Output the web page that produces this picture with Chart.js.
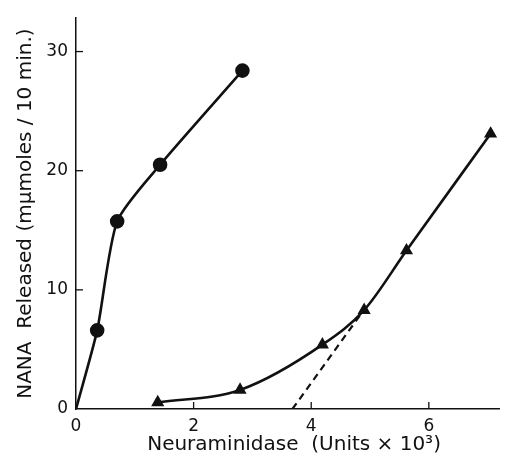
<!DOCTYPE html>
<html>
<head>
<meta charset="utf-8">
<script src="https://cdn.jsdelivr.net/npm/chart.js@4.4.1/dist/chart.umd.min.js"></script>
<style>
  html, body { margin: 0; padding: 0; background: #fff; }
  #wrap { width: 508px; height: 457px; }
</style>
</head>
<body>
<div id="wrap"><canvas id="myChart"></canvas></div>
<script>
// values
const circleX = [0, 0.36, 0.70, 1.43, 2.83];
const circleY = [0, 6.6, 15.75, 20.5, 28.4];
const triX = [1.39, 2.79, 4.19, 4.90, 5.62, 7.05];
const triY = [0.55, 1.6, 5.4, 8.3, 13.3, 23.1];
const dashX = [3.68, 4.85];
const dashY = [0, 8.0];
const xTicks = [0, 2, 4, 6];
const yTicks = [0, 10, 20, 30];

const ink = '#111';
const pairs = (xs, ys) => xs.map((x, i) => ({ x: x, y: ys[i] }));

// ticks in the figure point into the plot, so draw them here
const inwardTicks = {
  id: 'inwardTicks',
  afterDraw(chart) {
    const c = chart.ctx, a = chart.chartArea;
    const xs = chart.scales.x, ys = chart.scales.y;
    c.save();
    c.strokeStyle = ink;
    c.lineWidth = 1.3;
    xTicks.slice(1).forEach(v => {
      const px = xs.getPixelForValue(v);
      c.beginPath(); c.moveTo(px, a.bottom); c.lineTo(px, a.bottom - 7); c.stroke();
    });
    yTicks.slice(1).forEach(v => {
      const py = ys.getPixelForValue(v);
      c.beginPath(); c.moveTo(a.left, py); c.lineTo(a.left + 7, py); c.stroke();
    });
    c.restore();
  }
};

const ctx = document.getElementById('myChart').getContext('2d');
const myChart = new Chart(ctx, {
  type: 'scatter',
  data: {
    datasets: [{
      data: pairs(circleX, circleY),
      showLine: true,
      tension: 0.22,
      borderColor: ink,
      backgroundColor: ink,
      borderWidth: 2.6,
      pointStyle: 'circle',
      pointRadius: [0, 6, 6, 6, 6]
    }, {
      data: pairs(triX, triY),
      showLine: true,
      cubicInterpolationMode: 'monotone',
      borderColor: ink,
      backgroundColor: ink,
      borderWidth: 2.6,
      pointStyle: 'triangle',
      pointRadius: 5
    }, {
      data: pairs(dashX, dashY),
      showLine: true,
      borderColor: ink,
      borderWidth: 2.2,
      borderDash: [7, 5],
      pointRadius: 0
    }]
  },
  options: {
    responsive: true,
    maintainAspectRatio: false,
    animation: false,
    layout: { padding: { top: 14, right: 0, left: 0, bottom: 0 } },
    plugins: { legend: { display: false }, tooltip: { enabled: false } },
    scales: {
      x: {
        type: 'linear',
        min: 0,
        max: 7.2,
        afterBuildTicks: s => { s.ticks = xTicks.map(v => ({ value: v })); },
        afterFit: s => { s.height = 48; },
        grid: { display: false, drawTicks: false },
        border: { color: ink, width: 1.5 },
        ticks: { color: ink, padding: 7, font: { family: 'DejaVu Sans', size: 17 } },
        title: {
          display: true,
          text: '  Neuraminidase  (Units \u00d7 10\u00b3)',
          color: ink,
          padding: { top: 0, bottom: 0 },
          font: { family: 'DejaVu Sans', size: 20 }
        }
      },
      y: {
        type: 'linear',
        min: 0,
        max: 32.8,
        afterBuildTicks: s => { s.ticks = yTicks.map(v => ({ value: v })); },
        afterFit: s => { s.width = 76; },
        grid: { display: false, drawTicks: false },
        border: { color: ink, width: 1.5 },
        ticks: { color: ink, padding: 8, font: { family: 'DejaVu Sans', size: 17 } },
        title: {
          display: true,
          text: 'NANA  Released (m\u03bcmoles / 10 min.)',
          color: ink,
          padding: { top: 14, bottom: 0 },
          font: { family: 'DejaVu Sans', size: 20 }
        }
      }
    }
  },
  plugins: [inwardTicks]
});
</script>
</body>
</html>
